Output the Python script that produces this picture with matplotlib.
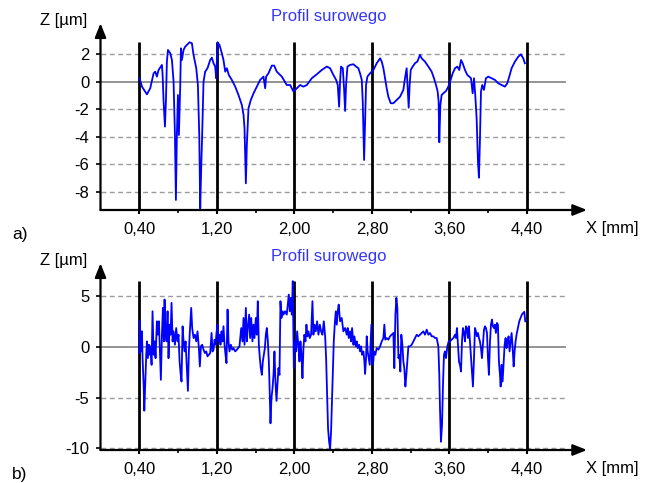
"""
Profil surowego -- dwa profile chropowatości (a i b) odczytane z wykresu.
"""

import matplotlib.pyplot as plt

plt.rcParams["font.family"] = ["Liberation Sans", "DejaVu Sans"]

# ---------------------------------------------------------------------------
# DANE
# ---------------------------------------------------------------------------

# profil a) -- X [mm], Z [um]
xa = [0.403, 0.428, 0.479, 0.513, 0.548, 0.565, 0.582, 0.599, 0.634, 0.641,
      0.651, 0.665, 0.675, 0.685, 0.696, 0.720, 0.737, 0.754, 0.768, 0.778,
      0.788, 0.799, 0.809, 0.823, 0.830, 0.840, 0.857, 0.874, 0.891, 0.919,
      0.943, 0.960, 0.988, 1.005, 1.019, 1.029, 1.039, 1.049, 1.063, 1.080,
      1.104, 1.132, 1.149, 1.166, 1.183, 1.194, 1.208, 1.228, 1.252, 1.269,
      1.287, 1.304, 1.324, 1.355, 1.390, 1.424, 1.458, 1.476, 1.486, 1.500,
      1.510, 1.527, 1.551, 1.579, 1.613, 1.647, 1.682, 1.699, 1.709, 1.733,
      1.768, 1.792, 1.819, 1.854, 1.871, 1.922, 1.957, 1.991, 2.025, 2.060,
      2.094, 2.129, 2.180, 2.232, 2.283, 2.335, 2.369, 2.403, 2.431, 2.448,
      2.462, 2.472, 2.482, 2.500, 2.513, 2.524, 2.534, 2.548, 2.575, 2.610,
      2.637, 2.661, 2.678, 2.696, 2.706, 2.720, 2.730, 2.740, 2.754, 2.781,
      2.816, 2.850, 2.885, 2.902, 2.919, 2.936, 2.953, 2.970, 2.995, 3.022,
      3.056, 3.091, 3.125, 3.142, 3.159, 3.170, 3.180, 3.190, 3.201, 3.221,
      3.245, 3.269, 3.297, 3.314, 3.348, 3.383, 3.417, 3.441, 3.462, 3.479,
      3.489, 3.496, 3.507, 3.520, 3.537, 3.565, 3.589, 3.613, 3.634, 3.658,
      3.682, 3.702, 3.720, 3.737, 3.761, 3.785, 3.805, 3.823, 3.840, 3.854,
      3.867, 3.881, 3.895, 3.905, 3.915, 3.926, 3.939, 3.957, 3.977, 4.001,
      4.036, 4.070, 4.104, 4.139, 4.173, 4.197, 4.218, 4.242, 4.276, 4.311,
      4.338, 4.362, 4.379]
za = [0.27, -0.34, -0.90, -0.46, 0.63, 0.75, 0.39, 0.87, 1.24, 0.51,
      -1.43, -3.25, -1.43, 1.48, 2.33, 2.09, 1.60, 0.02, -3.86, -8.59,
      -3.86, -0.95, -3.86, -0.22, 2.45, 1.60, 2.33, 2.57, 2.69, 2.89,
      2.82, 1.97, 1.00, -0.22, -3.86, -9.20, -6.29, -3.86, 0.02, 0.75,
      1.00, 1.60, 1.77, 1.36, 1.12, 0.27, 2.89, 2.69, 2.09, 1.60,
      0.75, 1.00, 0.51, 0.15, -0.34, -0.95, -1.67, -2.40, -3.37, -7.38,
      -4.59, -1.92, -1.31, -0.83, -0.34, 0.15, 0.39, -0.46, 0.39, 0.63,
      1.19, 1.19, 0.75, 0.51, 0.39, -0.22, -0.22, -0.70, -0.46, -0.22,
      -0.34, -0.22, 0.27, 0.56, 0.87, 1.12, 1.00, 0.51, 0.15, -0.22,
      -1.80, 0.02, 1.12, 1.00, -0.46, -2.11, -0.22, 1.12, 1.24, 1.29,
      1.12, 1.00, 0.63, 0.15, -1.43, -5.68, -2.89, -0.22, 0.39, 0.63,
      0.87, 1.36, 1.72, 1.48, 1.00, 0.27, -0.46, -1.07, -1.55, -1.55,
      -1.31, -1.07, -0.58, 0.27, 1.00, -0.46, -1.87, -0.22, 0.87, 1.12,
      1.36, 1.48, 1.97, 1.72, 1.48, 1.12, 0.75, 0.27, -0.22, -0.70,
      -1.43, -4.39, -1.67, -0.95, -0.83, -0.66, -0.34, 0.15, 0.63, 1.00,
      1.12, 0.87, 1.60, 1.36, 0.87, 0.51, 0.39, 0.27, -0.83, 0.27,
      -0.95, -2.65, -5.80, -6.97, -4.34, -0.70, -0.22, -0.58, 0.27, 0.39,
      0.27, 0.15, -0.10, -0.22, -0.34, -0.10, 0.39, 1.00, 1.48, 1.84,
      2.01, 1.72, 1.36]

# profil b)
xb = [0.402, 0.406, 0.417, 0.428, 0.434, 0.445, 0.452, 0.462, 0.472, 0.479,
      0.489, 0.500, 0.507, 0.517, 0.527, 0.537, 0.548, 0.558, 0.568, 0.582,
      0.592, 0.603, 0.613, 0.623, 0.634, 0.644, 0.654, 0.661, 0.671, 0.682,
      0.692, 0.702, 0.713, 0.723, 0.733, 0.744, 0.754, 0.768, 0.781, 0.795,
      0.805, 0.816, 0.826, 0.836, 0.847, 0.857, 0.867, 0.878, 0.891, 0.902,
      0.912, 0.922, 0.936, 0.946, 0.960, 0.974, 0.988, 1.001, 1.015, 1.025,
      1.036, 1.049, 1.063, 1.077, 1.091, 1.104, 1.118, 1.132, 1.146, 1.156,
      1.166, 1.177, 1.187, 1.197, 1.208, 1.218, 1.228, 1.238, 1.249, 1.259,
      1.269, 1.280, 1.290, 1.300, 1.311, 1.321, 1.331, 1.345, 1.359, 1.372,
      1.390, 1.407, 1.434, 1.452, 1.465, 1.476, 1.486, 1.500, 1.510, 1.520,
      1.534, 1.544, 1.555, 1.568, 1.579, 1.589, 1.603, 1.613, 1.623, 1.634,
      1.644, 1.654, 1.665, 1.675, 1.685, 1.696, 1.706, 1.716, 1.727, 1.737,
      1.744, 1.754, 1.764, 1.775, 1.785, 1.795, 1.805, 1.816, 1.826, 1.836,
      1.847, 1.857, 1.867, 1.878, 1.888, 1.905, 1.922, 1.933, 1.943, 1.953,
      1.964, 1.974, 1.984, 1.995, 2.008, 2.019, 2.029, 2.043, 2.053, 2.063,
      2.074, 2.084, 2.094, 2.104, 2.115, 2.125, 2.135, 2.146, 2.159, 2.173,
      2.187, 2.197, 2.208, 2.221, 2.235, 2.249, 2.263, 2.276, 2.290, 2.304,
      2.318, 2.328, 2.338, 2.348, 2.359, 2.369, 2.379, 2.386, 2.397, 2.407,
      2.417, 2.428, 2.438, 2.448, 2.458, 2.472, 2.489, 2.506, 2.524, 2.541,
      2.551, 2.562, 2.575, 2.586, 2.596, 2.610, 2.620, 2.634, 2.644, 2.654,
      2.668, 2.678, 2.689, 2.699, 2.713, 2.723, 2.730, 2.740, 2.747, 2.757,
      2.768, 2.778, 2.788, 2.795, 2.802, 2.812, 2.823, 2.836, 2.850, 2.867,
      2.885, 2.902, 2.919, 2.929, 2.939, 2.953, 2.970, 2.988, 3.005, 3.022,
      3.032, 3.043, 3.053, 3.063, 3.074, 3.084, 3.094, 3.104, 3.115, 3.125,
      3.135, 3.146, 3.156, 3.166, 3.177, 3.194, 3.211, 3.228, 3.245, 3.263,
      3.280, 3.297, 3.314, 3.331, 3.348, 3.366, 3.383, 3.400, 3.417, 3.434,
      3.452, 3.469, 3.486, 3.496, 3.503, 3.513, 3.524, 3.534, 3.544, 3.555,
      3.565, 3.579, 3.593, 3.606, 3.623, 3.641, 3.658, 3.668, 3.678, 3.689,
      3.699, 3.709, 3.720, 3.730, 3.740, 3.751, 3.761, 3.771, 3.781, 3.792,
      3.802, 3.812, 3.823, 3.833, 3.843, 3.854, 3.864, 3.874, 3.885, 3.895,
      3.905, 3.915, 3.926, 3.936, 3.946, 3.957, 3.967, 3.977, 3.988, 3.998,
      4.008, 4.019, 4.029, 4.039, 4.049, 4.060, 4.070, 4.080, 4.091, 4.101,
      4.111, 4.122, 4.129, 4.139, 4.149, 4.160, 4.170, 4.180, 4.190, 4.201,
      4.211, 4.221, 4.232, 4.242, 4.252, 4.263, 4.273, 4.283, 4.293, 4.307,
      4.321, 4.335, 4.348, 4.362, 4.373, 4.383]
zb = [-0.60, 2.60, -0.43, 1.55, -1.09, -3.73, -6.27, -3.40, -0.76, 0.56,
      -1.09, 0.23, -0.76, 0.07, -1.75, 3.53, -0.76, 0.56, -1.09, 2.54,
      1.22, 2.54, -0.43, -3.23, 1.22, 3.86, 0.56, 4.69, 1.22, 0.56,
      3.53, -1.09, 2.21, 1.22, 4.36, 0.56, 1.55, 0.23, 1.88, 0.56,
      1.22, -1.42, -2.57, -3.40, 2.05, 0.56, -0.43, 0.56, -2.08, -4.32,
      -0.43, 1.55, 3.86, 1.88, 0.89, 1.22, 0.56, 1.55, -0.10, -1.91,
      0.07, 0.23, -0.26, -0.59, -0.43, -0.92, -0.76, -0.59, 1.39, -0.43,
      -0.26, 0.73, 0.23, 1.39, 2.21, 0.56, 1.22, 0.23, 1.55, 0.56,
      2.05, 0.23, -0.76, -1.58, 3.70, 0.56, -0.43, 0.23, -0.26, -0.10,
      -0.43, -0.26, 0.07, 1.88, 0.56, 2.87, 0.23, 3.86, 0.56, 1.88,
      3.20, 0.89, 2.87, 0.56, 2.21, 0.89, 2.87, 1.22, 4.52, 0.23,
      -1.09, -2.08, -2.74, -1.42, -0.76, -0.10, 1.22, 1.88, 0.56, -1.42,
      -3.73, -7.52, -5.05, -4.06, -2.74, -0.43, -3.40, -5.31, -3.73, -2.08,
      -2.74, 4.52, 2.87, 3.53, 3.20, 3.53, 3.20, 4.19, 5.18, 3.53,
      4.85, 3.20, 6.50, -2.08, 0.56, -0.43, 1.55, 0.07, -1.42, 0.56,
      -0.76, -3.07, -0.10, 1.22, 0.56, 2.21, 1.06, 1.55, 0.89, 1.22,
      4.52, 1.22, 2.21, 1.55, 2.54, 1.22, 2.21, 1.55, 1.22, 2.54,
      1.06, -1.09, -4.39, -8.02, -9.34, -10.0, -8.35, -6.04, -2.08, 0.56,
      2.21, 3.53, 2.21, 3.53, 4.19, 2.54, 2.87, 1.55, 1.88, 1.22,
      1.88, 0.89, 1.55, 0.56, 1.88, 0.23, 1.06, 0.07, 0.56, -0.10,
      0.23, -0.43, 0.07, -0.76, -0.43, -1.42, -2.64, -1.09, 1.06, -0.43,
      -1.09, -1.75, 0.56, 2.21, -1.09, -1.75, -0.43, -0.76, -0.10, -0.26,
      0.07, 0.56, 0.89, 2.21, 0.73, 0.89, 0.73, 1.06, 1.22, 1.39,
      -2.08, 3.20, 4.85, 3.86, -1.09, -0.76, -2.41, 1.22, 0.23, -1.42,
      -2.08, -3.89, -2.74, -1.42, 0.07, 0.07, 0.23, 0.56, 0.89, 1.22,
      1.06, 1.22, 1.39, 1.55, 1.22, 1.72, 1.22, 1.39, 1.06, 1.06,
      0.89, 0.89, 0.07, -2.74, -6.04, -9.34, -7.69, -3.73, -0.76, -0.43,
      -1.09, 0.07, 0.56, 0.56, 0.73, 0.89, 1.22, 0.89, 1.88, 0.07,
      -1.42, -1.75, -2.41, 0.56, 1.88, 1.39, 0.56, 2.05, 1.88, 0.89,
      2.05, 0.56, -1.09, -2.74, -3.89, -1.09, 1.88, 1.55, 1.06, 1.39,
      0.89, 0.56, -0.10, -1.09, 0.23, 1.72, 2.05, 1.88, 1.39, -1.09,
      -2.74, 0.56, 2.21, 2.71, 2.05, 1.88, 2.21, 1.39, 2.38, 2.21,
      -1.42, -2.74, -3.89, -1.75, -3.40, -1.42, 0.23, 0.89, -0.10, 0.56,
      1.06, -0.43, 0.56, 1.39, 0.07, -1.91, -0.43, 0.56, 1.22, 1.88,
      2.54, 2.87, 3.20, 3.37, 3.47, 2.54]

# osie
x_ticks = [0.4, 1.2, 2.0, 2.8, 3.6, 4.4]
x_labels = ["0,40", "1,20", "2,00", "2,80", "3,60", "4,40"]
x_minor = [0.8, 1.6, 2.4, 3.2, 4.0]
y_ticks_a = [2, 0, -2, -4, -6, -8]
y_ticks_b = [5, 0, -5, -10]

NIEBIESKI = "#0000ff"
W, H = 650, 483
FS = 12


def px(x, y):
    """piksele -> ułamek figury"""
    return x / W, 1 - y / H


def rysuj_profil(ax, x, z, y_ticks, y_min, y_max, y_pion):
    ax.set_xlim(0, 5.02)
    ax.set_ylim(y_min, y_max)
    for s in ax.spines.values():
        s.set_visible(False)

    # linie pomocnicze
    for v in y_ticks:
        if v == 0:
            ax.plot([0, 4.79], [0, 0], color="#8a8a8a", lw=1.3, zorder=1)
        else:
            ax.plot([0, 4.79], [v, v], color="#9a9a9a", lw=1.0,
                    ls=(0, (3.5, 2.5)), zorder=1)
    ax.vlines(x_ticks, y_min, y_pion, color="black", lw=2.0, zorder=2)

    ax.plot(x, z, color=NIEBIESKI, lw=1.3, zorder=3)

    # osie ze strzałkami
    strz = dict(arrowstyle="-|>,head_length=0.7,head_width=0.28", lw=1.6,
                color="black", shrinkA=0, shrinkB=0, mutation_scale=12)
    ax.annotate("", xy=(1, 0), xytext=(0, 0), xycoords="axes fraction",
                arrowprops=strz)
    ax.annotate("", xy=(0, 1), xytext=(0, 0), xycoords="axes fraction",
                arrowprops=strz)

    ax.set_xticks(x_ticks, x_labels)
    ax.set_xticks(x_minor, minor=True)
    ax.set_yticks(y_ticks, [str(v) for v in y_ticks])
    ax.tick_params(axis="x", which="major", length=3, width=1.5, pad=5.5,
                   labelsize=FS)
    ax.tick_params(axis="x", which="minor", length=2.5, width=1.2)
    ax.tick_params(axis="y", length=3.5, width=1.2, pad=4.5, labelsize=FS)


fig = plt.figure(figsize=(6.5, 4.83), dpi=100)

# a)
ax_a = fig.add_axes([100.5 / W, 1 - 210 / H, 486.5 / W, (210 - 23.3) / H])
rysuj_profil(ax_a, xa, za, y_ticks_a, -9.32, 4.27, 2.94)

# b)
ax_b = fig.add_axes([100.5 / W, 1 - 450 / H, 486.5 / W, (450 - 263.3) / H])
rysuj_profil(ax_b, xb, zb, y_ticks_b, -10.15, 8.26, 6.55)

# podpisy
for y_top, y_dol, lit in [(20, 228, "a)"), (260, 468, "b)")]:
    fig.text(*px(64, y_top), "Z [µm]", ha="center", va="center", fontsize=FS)
    fig.text(*px(329, y_top - 3), "Profil surowego", ha="center", va="center",
             fontsize=FS, color="#3535ff")
    fig.text(*px(612, y_dol), "X [mm]", ha="center", va="center", fontsize=FS)
    fig.text(*px(20, y_dol + 6), lit, ha="center", va="center", fontsize=12.5)

fig.savefig("out.png", dpi=100)
